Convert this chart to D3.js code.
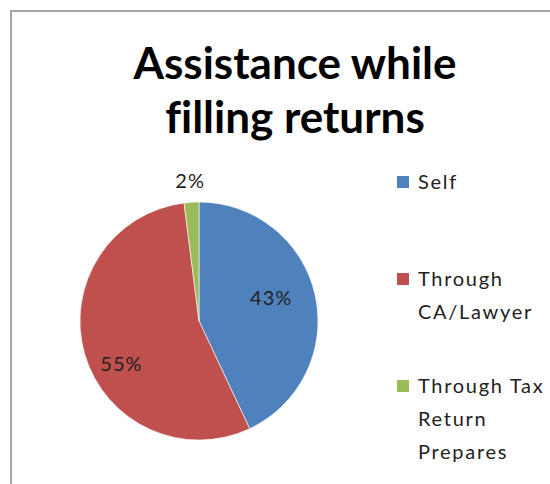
<!DOCTYPE html>
<html>
<head>
<meta charset="utf-8">
<script src="https://cdn.jsdelivr.net/npm/d3@7"></script>
<style>
  html, body { margin: 0; padding: 0; background: #fff; }
  svg { display: block; }
  text { font-variant-ligatures: none; }
</style>
</head>
<body>
<svg id="chart" width="550" height="484"></svg>
<script>
// Survey shares: how respondents get help filing their returns
const categories = ["Self", "Through CA/Lawyer", "Through Tax Return Prepares"];
const shares = [43, 55, 2];
const legendLines = [["Self"], ["Through", "CA/Lawyer"], ["Through Tax", "Return", "Prepares"]];
const titleLines = ["Assistance while", "filling returns"];

const colors = ["#4F81BD", "#C0504D", "#9BBB59"];

const svg = d3.select("#chart");
const W = 550, H = 484;

// chart area frame (open to the right and bottom)
svg.append("path")
  .attr("d", `M11,${H} L11,11 L${W},11`)
  .attr("fill", "none")
  .attr("stroke", "#a6a6a6")
  .attr("stroke-width", 2);

// title
const title = svg.append("text")
  .attr("text-anchor", "middle")
  .attr("font-family", "Lato, 'Open Sans', sans-serif")
  .attr("font-weight", 700)
  .attr("font-size", 44)
  .attr("fill", "#000");
title.selectAll("tspan").data(titleLines).join("tspan")
  .attr("x", 295)
  .attr("y", (d, i) => 79 + i * 54)
  .text(d => d);

// pie
const cx = 199, cy = 321, r = 119;
const pie = d3.pie().sort(null).value(d => d)(shares);
const arc = d3.arc().innerRadius(0).outerRadius(r);
const g = svg.append("g").attr("transform", `translate(${cx},${cy})`);

g.selectAll("path").data(pie).join("path")
  .attr("d", arc)
  .attr("fill", (d, i) => colors[i])
  .attr("stroke", "#fff")
  .attr("stroke-width", 0.6);

// data labels: radius factor and angular shift used for placement
const labelRadius = [0.64, 0.74, 1.19];
const labelAngleShift = [-6, -12, 0]; // degrees
g.selectAll("text.lbl").data(pie).join("text")
  .attr("class", "lbl")
  .attr("text-anchor", "middle")
  .attr("dominant-baseline", "central")
  .attr("font-family", "Lato, 'Open Sans', sans-serif")
  .attr("font-size", 20)
  .attr("letter-spacing", 1)
  .attr("fill", "#222")
  .attr("transform", (d, i) => {
    const a = (d.startAngle + d.endAngle) / 2 + labelAngleShift[i] * Math.PI / 180;
    const rr = r * labelRadius[i];
    return `translate(${rr * Math.sin(a)},${-rr * Math.cos(a)})`;
  })
  .text(d => d.data + "%");

// legend
const legendX = 397;
const legendTop = [176, 273, 380];
const lineGap = 33;
const leg = svg.append("g");
categories.forEach((c, i) => {
  leg.append("rect")
    .attr("x", legendX).attr("y", legendTop[i])
    .attr("width", 12).attr("height", 12)
    .attr("fill", colors[i]);
  const t = leg.append("text")
    .attr("font-family", "Lato, 'Open Sans', sans-serif")
    .attr("font-size", 20)
    .attr("letter-spacing", 1.7)
    .attr("fill", "#222");
  t.selectAll("tspan").data(legendLines[i]).join("tspan")
    .attr("x", legendX + 21)
    .attr("y", (d, j) => legendTop[i] + 13 + j * lineGap)
    .text(d => d);
});
</script>
</body>
</html>
